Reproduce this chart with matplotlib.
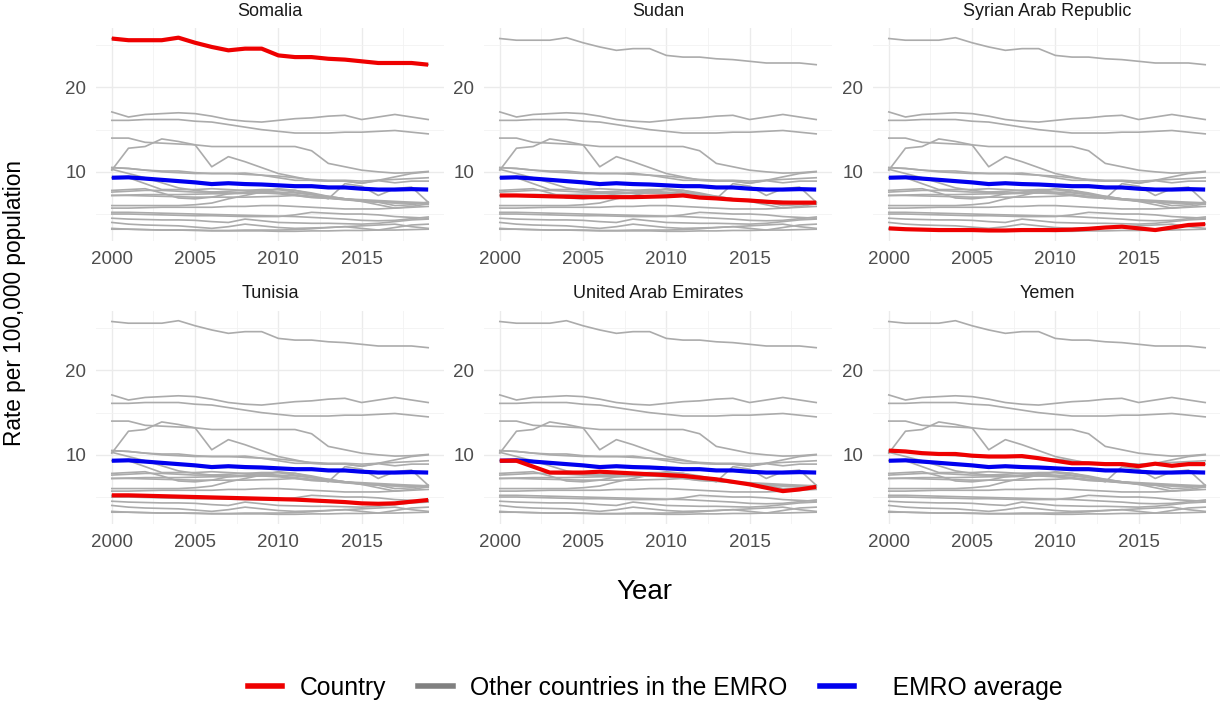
import numpy as np
import matplotlib
matplotlib.use("Agg")
import matplotlib.pyplot as plt
from matplotlib.lines import Line2D

plt.rcParams['font.family'] = ['Liberation Sans', 'DejaVu Sans']

years = list(range(2000, 2020))

# Highlighted countries
somalia = [25.8, 25.6, 25.6, 25.6, 25.9, 25.3, 24.8, 24.4, 24.6, 24.6, 23.8, 23.6, 23.6, 23.4, 23.3, 23.1, 22.9, 22.9, 22.9, 22.7]
sudan = [7.2, 7.2, 7.15, 7.1, 7.05, 7.0, 7.0, 7.0, 7.0, 7.05, 7.1, 7.2, 6.95, 6.85, 6.7, 6.6, 6.45, 6.35, 6.35, 6.35]
syria = [3.3, 3.2, 3.15, 3.1, 3.1, 3.1, 3.05, 3.05, 3.1, 3.1, 3.1, 3.15, 3.25, 3.4, 3.5, 3.3, 3.1, 3.4, 3.7, 3.8]
tunisia = [5.2, 5.2, 5.15, 5.1, 5.05, 5.0, 4.95, 4.9, 4.85, 4.8, 4.75, 4.7, 4.6, 4.5, 4.4, 4.25, 4.2, 4.25, 4.45, 4.65]
uae = [9.3, 9.3, 8.6, 7.9, 7.9, 7.9, 8.0, 7.9, 7.8, 7.7, 7.6, 7.5, 7.3, 7.1, 6.8, 6.5, 6.1, 5.7, 5.9, 6.2]
yemen = [10.5, 10.4, 10.2, 10.1, 10.1, 9.9, 9.8, 9.8, 9.85, 9.6, 9.3, 9.0, 9.0, 8.9, 8.9, 8.65, 8.95, 8.7, 8.9, 8.9]

# EMRO average
emro_avg = [9.3, 9.35, 9.2, 9.05, 8.9, 8.75, 8.55, 8.65, 8.55, 8.5, 8.4, 8.3, 8.3, 8.15, 8.15, 8.0, 7.9, 7.9, 7.95, 7.9]

# Other EMRO countries
other01 = [17.1, 16.5, 16.8, 16.9, 17.0, 16.9, 16.6, 16.2, 16.0, 15.9, 16.1, 16.3, 16.4, 16.6, 16.7, 16.2, 16.5, 16.8, 16.5, 16.2]
other02 = [16.1, 16.1, 16.2, 16.2, 16.2, 16.0, 15.9, 15.6, 15.3, 15.0, 14.8, 14.6, 14.6, 14.6, 14.7, 14.7, 14.8, 14.9, 14.7, 14.5]
other03 = [14.0, 14.0, 13.5, 13.4, 13.3, 13.2, 13.0, 13.0, 13.0, 13.0, 13.0, 13.0, 12.5, 11.0, 10.6, 10.2, 10.0, 9.85, 9.9, 10.05]
other04 = [10.2, 12.8, 13.0, 13.9, 13.6, 13.2, 10.6, 11.8, 11.2, 10.5, 9.8, 9.4, 9.0, 8.9, 8.9, 8.65, 9.0, 9.4, 9.8, 10.0]
other05 = [10.5, 10.4, 10.2, 10.0, 9.9, 9.8, 9.8, 9.8, 9.7, 9.6, 9.5, 9.3, 9.1, 9.0, 9.0, 8.9, 9.0, 9.1, 9.2, 9.3]
other06 = [10.3, 9.8, 9.3, 8.7, 8.1, 7.8, 7.6, 7.5, 7.5, 7.5, 7.4, 7.2, 7.0, 6.9, 6.7, 6.5, 6.4, 6.3, 6.3, 6.2]
other07 = [7.8, 7.9, 8.0, 7.5, 6.9, 6.8, 7.0, 7.4, 7.6, 7.8, 7.9, 7.8, 7.4, 6.8, 8.6, 8.3, 7.2, 8.0, 8.2, 6.4]
other08 = [7.2, 7.25, 7.3, 7.3, 7.3, 7.35, 7.4, 7.4, 7.45, 7.5, 7.5, 7.3, 7.1, 6.9, 6.8, 6.7, 6.6, 6.5, 6.4, 6.3]
other09 = [7.6, 7.7, 7.8, 7.8, 7.7, 7.6, 7.6, 7.7, 7.8, 7.9, 7.9, 7.6, 7.3, 7.0, 6.8, 6.6, 6.4, 6.0, 6.1, 6.4]
other10 = [6.0, 6.0, 6.0, 6.0, 6.0, 6.1, 6.3, 6.8, 7.2, 7.6, 8.0, 7.8, 7.5, 7.1, 6.8, 6.6, 6.5, 6.4, 6.3, 6.2]
other11 = [5.7, 5.7, 5.75, 5.8, 5.8, 5.8, 5.8, 5.9, 5.9, 6.0, 6.0, 5.9, 5.8, 5.7, 5.6, 5.6, 5.6, 5.7, 5.8, 5.9]
other12 = [5.0, 5.0, 4.95, 4.9, 4.85, 4.8, 4.8, 4.75, 4.7, 4.7, 4.7, 4.9, 5.2, 5.1, 5.0, 5.0, 4.9, 4.7, 4.6, 4.5]
other13 = [4.5, 4.4, 4.35, 4.3, 4.3, 4.25, 4.1, 4.0, 4.4, 4.2, 4.0, 3.95, 3.9, 3.9, 3.85, 3.8, 3.9, 4.1, 4.3, 4.4]
other14 = [4.0, 3.8, 3.7, 3.65, 3.6, 3.45, 3.3, 3.5, 3.8, 3.6, 3.4, 3.3, 3.35, 3.4, 3.5, 3.6, 3.7, 3.8, 3.5, 3.3]
other15 = [3.2, 3.2, 3.15, 3.1, 3.1, 3.05, 3.0, 3.0, 3.0, 3.0, 2.95, 2.95, 3.0, 3.0, 3.05, 3.05, 3.1, 3.1, 3.15, 3.2]

panel_names = ["Somalia", "Sudan", "Syrian Arab Republic", "Tunisia", "United Arab Emirates", "Yemen"]
panel_series = [somalia, sudan, syria, tunisia, uae, yemen]
others = [other01, other02, other03, other04, other05, other06, other07, other08,
          other09, other10, other11, other12, other13, other14, other15]
all_countries = others + panel_series

y_ticks = [10, 20]
x_ticks = [2000, 2005, 2010, 2015]

W, H = 1220, 703
fig = plt.figure(figsize=(W / 100, H / 100), dpi=100)

# Layout in pixels
col_left = [96, 484, 873]
pan_w = 348
row_top = [28, 311]
pan_h = 213

allv = np.concatenate([np.array(s) for s in all_countries + [emro_avg]])
ymin, ymax = allv.min(), allv.max()
span = ymax - ymin
ylim = (ymin - 0.05 * span, ymax + 0.05 * span)
xspan = years[-1] - years[0]
xlim = (years[0] - 0.05 * xspan, years[-1] + 0.05 * xspan)

GRID_MAJ = '#EBEBEB'
for i, (name, ser) in enumerate(zip(panel_names, panel_series)):
    r, c = divmod(i, 3)
    left = col_left[c] / W
    bottom = 1 - (row_top[r] + pan_h) / H
    ax = fig.add_axes([left, bottom, pan_w / W, pan_h / H])
    for s in all_countries:
        ax.plot(years, s, color='#ABABAB', lw=1.2, zorder=2, solid_joinstyle='round')
    ax.plot(years, emro_avg, color='#0000EE', lw=3.0, zorder=4, solid_capstyle='butt')
    ax.plot(years, ser, color='#EE0000', lw=3.0, zorder=5, solid_capstyle='butt')
    ax.set_xlim(*xlim)
    ax.set_ylim(*ylim)
    ax.set_xticks(x_ticks)
    ax.set_xticks([2002.5, 2007.5, 2012.5, 2017.5], minor=True)
    ax.set_yticks(y_ticks)
    ax.set_yticks([5, 15, 25], minor=True)
    ax.grid(True, which='major', color=GRID_MAJ, lw=1.0, zorder=0)
    ax.grid(True, which='minor', color='#F2F2F2', lw=0.6, zorder=0)
    ax.set_axisbelow(True)
    for sp in ax.spines.values():
        sp.set_visible(False)
    ax.tick_params(which='both', length=0)
    ax.tick_params(axis='x', pad=7, labelsize=13.5, labelcolor='#4D4D4D')
    ax.tick_params(axis='y', pad=7, labelsize=13.5, labelcolor='#4D4D4D')
    ax.set_title(name, fontsize=13, color='#1A1A1A', pad=9)

fig.text(15 / W, 1 - 303 / H, "Rate per 100,000 population", rotation=90,
         ha='center', va='center', fontsize=16.3, color='black')
fig.text(644 / W, 1 - 592 / H, "Year", ha='center', va='center', fontsize=20, color='black')

handles = [Line2D([], [], color='#EE0000', lw=4),
           Line2D([], [], color='#808080', lw=4),
           Line2D([], [], color='#0000EE', lw=4)]
labels = ["Country", "Other countries in the EMRO", "   EMRO average"]
fig.legend(handles, labels, loc='center', bbox_to_anchor=(655 / W, 1 - 688 / H),
           ncol=3, frameon=False, fontsize=17.8, handlelength=1.4,
           handletextpad=0.7, columnspacing=1.3)

fig.savefig("out.png", dpi=100)
